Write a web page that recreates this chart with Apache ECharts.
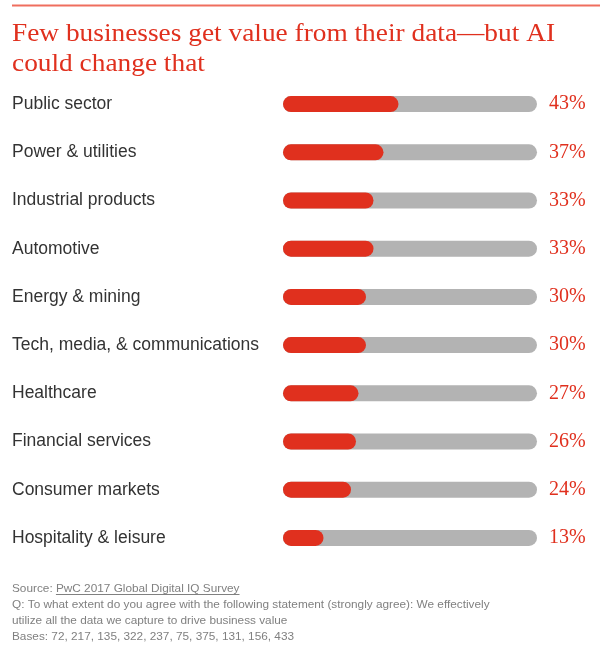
<!DOCTYPE html>
<html>
<head>
<meta charset="utf-8">
<script src="https://cdn.jsdelivr.net/npm/echarts@6/dist/echarts.min.js"></script>
<style>
html,body{margin:0;padding:0;background:#fff;}
#chart{width:600px;height:649px;}
</style>
</head>
<body>
<div id="chart"></div>
<script>
// ---- data ----
const categories = ["Public sector","Power & utilities","Industrial products","Automotive","Energy & mining","Tech, media, & communications","Healthcare","Financial services","Consumer markets","Hospitality & leisure"];
const values = [43, 37, 33, 33, 30, 30, 27, 26, 24, 13];
const titleLines = ["Few businesses get value from their data\u2014but AI", "could change that"];
const sourceLabel = "Source: ";
const sourceName = "PwC 2017 Global Digital IQ Survey";
const questionLines = ["Q: To what extent do you agree with the following statement (strongly agree): We effectively", "utilize all the data we capture to drive business value"];
const bases = [72, 217, 135, 322, 237, 75, 375, 131, 156, 433];

// ---- style constants ----
const RED = '#e0301e';
const GREY = '#b3b3b3';
const NOTE = '#808080';
const AXIS_MIN = -3.2, AXIS_MAX = 98.4; // cap offset so bar ends sit like the reference
const noteFont = '11.8px "Liberation Sans", Arial, sans-serif';
const titleFont = '26px "Liberation Serif", Georgia, serif';

function textWidth(t, font) {
  const c = document.createElement('canvas').getContext('2d');
  c.font = font;
  return c.measureText(t).width;
}
const srcX = 12 + textWidth(sourceLabel, noteFont);
const srcW = textWidth(sourceName, noteFont);
const titleScale = 543 / textWidth(titleLines[0], titleFont);

const chart = echarts.init(document.getElementById('chart'), null, {renderer: 'canvas'});

const option = {
  animation: false,
  backgroundColor: '#fff',
  grid: {left: 283, right: 63, top: 80, height: 482, containLabel: false},
  xAxis: {type: 'value', min: 0, max: AXIS_MAX - AXIS_MIN, show: false},
  yAxis: [
    {
      type: 'category', data: categories, inverse: true,
      axisLine: {show: false}, axisTick: {show: false},
      axisLabel: {align: 'left', margin: 271, color: '#333', fontFamily: 'Liberation Sans, Arial, sans-serif', fontSize: 17.5}
    },
    {
      type: 'category', data: values.map(v => v + '%'), inverse: true, position: 'right',
      axisLine: {show: false}, axisTick: {show: false},
      axisLabel: {align: 'left', margin: 12, color: RED, fontFamily: 'Liberation Serif, Georgia, serif', fontSize: 20}
    }
  ],
  series: [
    {
      type: 'bar', name: 'background', barWidth: 16, barGap: '-100%', silent: true,
      data: values.map(() => AXIS_MAX - AXIS_MIN),
      itemStyle: {color: GREY, borderRadius: 8}, z: 1
    },
    {
      type: 'bar', name: 'cap', stack: 's', barWidth: 16,
      data: values.map(() => -AXIS_MIN),
      itemStyle: {color: RED, borderRadius: [8, 0, 0, 8]}, z: 2
    },
    {
      type: 'bar', name: 'Strongly agree', stack: 's', barWidth: 16,
      data: values,
      itemStyle: {color: RED, borderRadius: [0, 8, 8, 0]}, z: 2
    }
  ],
  graphic: [
    {type: 'line', shape: {x1: 12, y1: 5.5, x2: 600, y2: 5.5}, style: {stroke: '#ef6e5e', lineWidth: 2}},
    {type: 'text', x: 12, y: 34.5, scaleX: titleScale, style: {text: titleLines[0], fill: RED, font: titleFont, verticalAlign: 'middle'}},
    {type: 'text', x: 12, y: 64, scaleX: titleScale, style: {text: titleLines[1], fill: RED, font: titleFont, verticalAlign: 'middle'}},
    {type: 'text', x: 12, y: 589, style: {text: sourceLabel, fill: NOTE, font: noteFont, verticalAlign: 'middle'}},
    {type: 'text', x: srcX, y: 589, style: {text: sourceName, fill: NOTE, font: noteFont, verticalAlign: 'middle'}},
    {type: 'line', shape: {x1: srcX, y1: 594.5, x2: srcX + srcW, y2: 594.5}, style: {stroke: NOTE, lineWidth: 1}},
    {type: 'text', x: 12, y: 605, style: {text: questionLines[0], fill: NOTE, font: noteFont, verticalAlign: 'middle'}},
    {type: 'text', x: 12, y: 621, style: {text: questionLines[1], fill: NOTE, font: noteFont, verticalAlign: 'middle'}},
    {type: 'text', x: 12, y: 637, style: {text: 'Bases: ' + bases.join(', '), fill: NOTE, font: noteFont, verticalAlign: 'middle'}}
  ]
};
chart.setOption(option);
</script>
</body>
</html>
